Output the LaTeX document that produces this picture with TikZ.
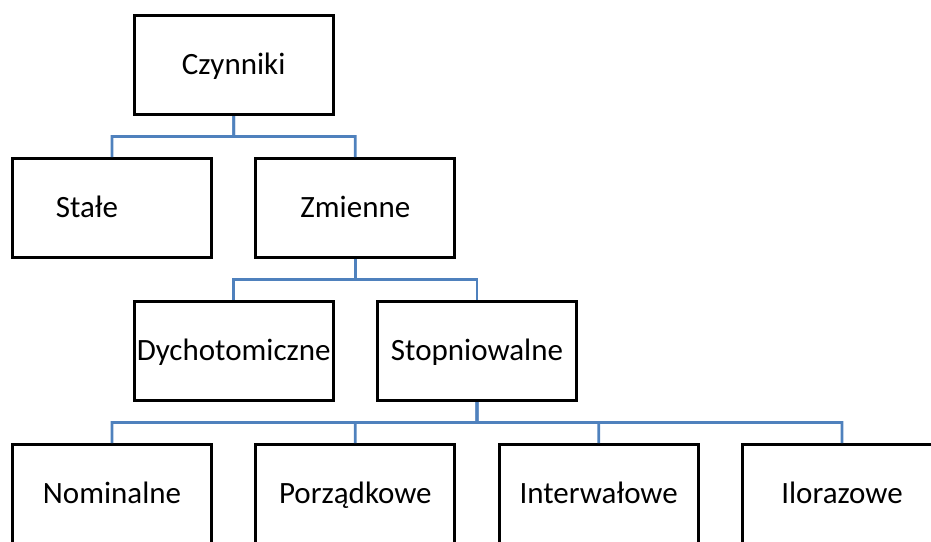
\documentclass[tikz,border=0pt]{standalone}
\usepackage{fontspec}
\setmainfont{Carlito}
\usetikzlibrary{calc}
\definecolor{linkblue}{HTML}{4F81BD}
\newcommand\hsep{121.67pt}
\newcommand\vsep{143pt}
\newcommand\boxwidth{199pt}
\newcommand\boxheight{99pt}

\tikzset{
  catbox/.style={draw,line width=3pt,minimum width=\boxwidth,minimum height=\boxheight,inner sep=0pt,text height=21pt,text depth=3pt,font=\fontsize{31}{36}\selectfont},
  treelink/.style={draw=linkblue,line width=2.8pt,to path={(\tikztostart) -- ($(\tikztostart)!.5!(\tikztostart|-\tikztotarget)$) -| (\tikztotarget)}}
}

\begin{document}
\begin{tikzpicture}[x=1pt,y=1pt]
    \useasboundingbox (0,0) rectangle (931,-541);
    \clip (0,0) rectangle (931,-541);

    \node[catbox] (czynniki) at (112+1*\hsep,-65) {Czynniki};

    \node[catbox,label={[xshift=-25pt,text height=21pt,text depth=3pt,font=\fontsize{31}{36}\selectfont]center:Stałe}] (stale) at (112,-65-1*\vsep) {};
    \node[catbox] (zmienne) at (112+2*\hsep,-65-1*\vsep) {Zmienne};

    \node[catbox] (dychotomiczne) at (112+1*\hsep,-65-2*\vsep) {Dychotomiczne};
    \node[catbox] (stopniowalne) at (112+3*\hsep,-65-2*\vsep) {Stopniowalne};

    \node[catbox] (nominalne) at (112,-65-3*\vsep) {Nominalne};
    \node[catbox] (porzadkowe) at (112+2*\hsep,-65-3*\vsep) {Porządkowe};
    \node[catbox] (interwalowe) at (112+4*\hsep,-65-3*\vsep) {Interwałowe};
    \node[catbox] (ilorazowe) at (112+6*\hsep,-65-3*\vsep) {Ilorazowe};

    \path (czynniki.south) edge[treelink] (stale.north)
                           edge[treelink] (zmienne.north);
    \path (zmienne.south) edge[treelink] (dychotomiczne.north)
                          edge[treelink] (stopniowalne.north);
    \path (stopniowalne.south) edge[treelink] (nominalne.north)
                               edge[treelink] (porzadkowe.north)
                               edge[treelink] (interwalowe.north)
                               edge[treelink] (ilorazowe.north);

  \end{tikzpicture}
\end{document}
